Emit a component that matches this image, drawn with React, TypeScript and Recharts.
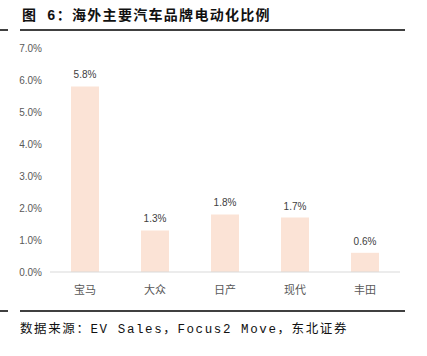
import { Bar, BarChart, LabelList, XAxis, YAxis } from "recharts";

const BRANDS = ["宝马", "大众", "日产", "现代", "丰田"];
const EV_SHARE = [5.8, 1.3, 1.8, 1.7, 0.6];
const Y_TICKS = [0, 1, 2, 3, 4, 5, 6, 7];

const TITLE = "图 6：海外主要汽车品牌电动化比例";
const SOURCE = "数据来源：EV Sales，Focus2 Move，东北证券";

const data = BRANDS.map((brand, i) => ({ brand, share: EV_SHARE[i] }));

const fmt = (v: number) => `${v.toFixed(1)}%`;

function Rule({ top }: { top: number }) {
	return (
		<>
			<div style={{ position: "absolute", left: 0, top, width: 8, height: 2, background: "#404040" }} />
			<div style={{ position: "absolute", left: 20, top, width: 385, height: 2, background: "#404040" }} />
		</>
	);
}

export default function App() {
	return (
		<div
			style={{
				position: "absolute",
				left: 0,
				top: 0,
				width: 427,
				height: 356,
				background: "#fff",
				overflow: "hidden",
			}}
		>
			<div
				style={{
					position: "absolute",
					left: 22,
					top: 4,
					fontFamily: "'Liberation Mono', 'Noto Sans CJK SC', monospace",
					fontWeight: "bold",
					fontSize: 14,
					letterSpacing: 1.3,
					color: "#111",
					whiteSpace: "nowrap",
				}}
			>
				{TITLE}
			</div>
			<Rule top={29} />
			<div style={{ position: "absolute", left: 0, top: 0 }}>
				<BarChart
					width={427}
					height={310}
					data={data}
					margin={{ top: 48, right: 27, bottom: 8, left: 0 }}
					barCategoryGap="30%"
				>
					<XAxis
						dataKey="brand"
						axisLine={{ stroke: "#d9d9d9" }}
						tickLine={false}
						height={30}
						tickMargin={8}
						tick={{ fontSize: 11, fill: "#595959", fontFamily: "'Noto Sans CJK SC', sans-serif" }}
					/>
					<YAxis
						width={50}
						domain={[0, 7]}
						ticks={Y_TICKS}
						tickFormatter={fmt}
						axisLine={false}
						tickLine={false}
						tick={{ fontSize: 10, fill: "#595959", fontFamily: "'Liberation Sans', sans-serif" }}
					/>
					<Bar dataKey="share" fill="#FBE3D6" isAnimationActive={false}>
						<LabelList
							dataKey="share"
							position="top"
							offset={8}
							formatter={(v: number) => fmt(v)}
							style={{ fontSize: 10, fill: "#404040", fontFamily: "'Liberation Sans', sans-serif" }}
						/>
					</Bar>
				</BarChart>
			</div>
			<Rule top={310} />
			<div
				style={{
					position: "absolute",
					left: 20,
					top: 318,
					fontFamily: "'Liberation Mono', 'Noto Sans CJK SC', monospace",
					fontSize: 12.5,
					letterSpacing: 1.6,
					color: "#111",
					whiteSpace: "nowrap",
				}}
			>
				{SOURCE}
			</div>
		</div>
	);
}
